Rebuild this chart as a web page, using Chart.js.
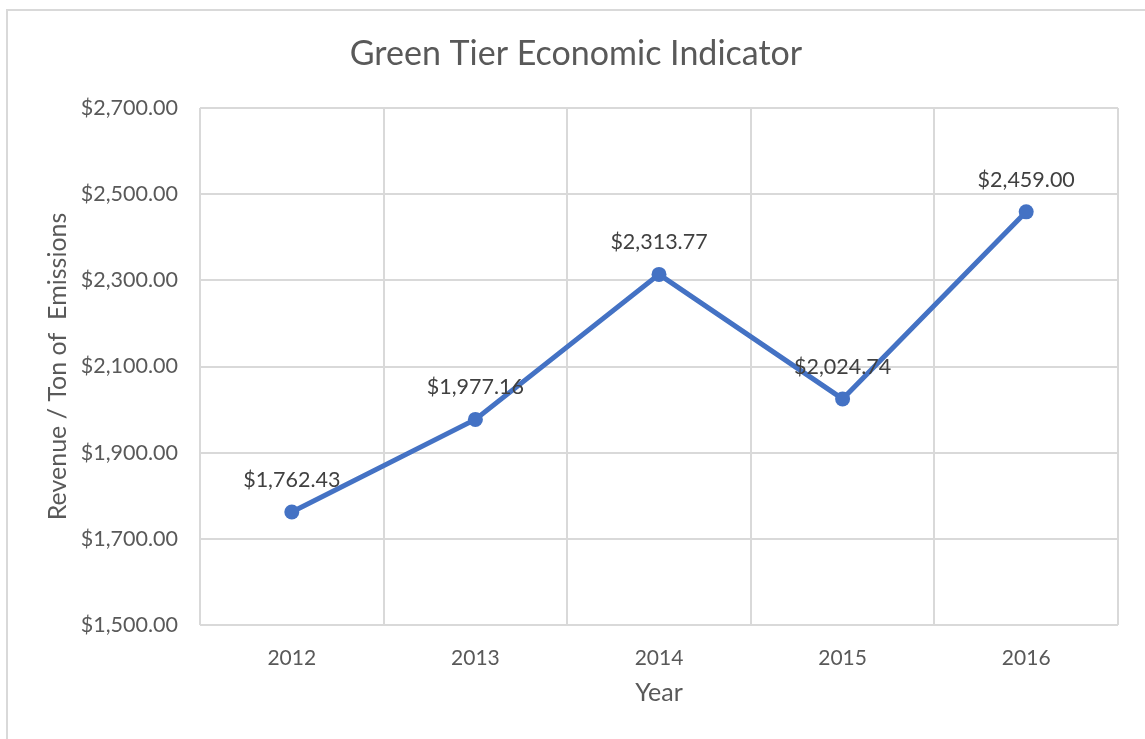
<!DOCTYPE html>
<html>
<head>
<meta charset="utf-8">
<script src="https://cdn.jsdelivr.net/npm/chart.js@4.4.1/dist/chart.umd.min.js"></script>
<style>
  html, body { margin: 0; padding: 0; background: #fff; overflow: hidden; }
  #moldura { position: absolute; left: 6px; top: 9px; width: 1300px; height: 900px; border: 2px solid #d9d9d9; }
  #caixa { position: absolute; left: 0; top: 0; width: 1145px; height: 739px; }
</style>
</head>
<body>
<div id="moldura"></div>
<div id="caixa"><canvas id="graficoIndicador"></canvas></div>
<script>
const anos = ['2012', '2013', '2014', '2015', '2016'];
const receitaPorTonelada = [1762.43, 1977.16, 2313.77, 2024.74, 2459.00];
const eixoMin = 1500;
const eixoMax = 2700;
const eixoPasso = 200;
const tituloGrafico = 'Green Tier Economic Indicator';

const corTexto = '#595959';
const fonte = 'Lato, "Open Sans", sans-serif';

function formatarDolar(valor) {
  return '$' + valor.toLocaleString('en-US', { minimumFractionDigits: 2, maximumFractionDigits: 2 });
}

// rótulos de dados acima de cada ponto + título do gráfico
const rotulosPlugin = {
  id: 'rotulos',
  afterDatasetsDraw(chart) {
    const ctx = chart.ctx;
    const meta = chart.getDatasetMeta(0);
    ctx.save();
    ctx.font = '21.5px ' + fonte;
    ctx.fillStyle = '#404040';
    ctx.textAlign = 'center';
    ctx.textBaseline = 'middle';
    meta.data.forEach((ponto, i) => {
      ctx.fillText(formatarDolar(receitaPorTonelada[i]), ponto.x, ponto.y - 32);
    });

    ctx.font = '34px ' + fonte;
    ctx.fillStyle = corTexto;
    ctx.fillText(tituloGrafico, 576, 54);
    ctx.restore();
  }
};

const ctx = document.getElementById('graficoIndicador').getContext('2d');
new Chart(ctx, {
  type: 'line',
  data: {
    labels: anos,
    datasets: [{
      data: receitaPorTonelada,
      borderColor: '#4472C4',
      backgroundColor: '#4472C4',
      borderWidth: 5,
      pointRadius: 7.5,
      pointHoverRadius: 7.5,
      pointBorderWidth: 0,
      tension: 0
    }]
  },
  options: {
    responsive: true,
    maintainAspectRatio: false,
    animation: false,
    layout: { padding: { left: 0, right: 27, top: 108, bottom: 0 } },
    plugins: {
      legend: { display: false },
      tooltip: { enabled: false },
      title: { display: false }
    },
    scales: {
      x: {
        offset: true,
        grid: { color: '#d9d9d9', lineWidth: 2, offset: true, drawTicks: false },
        border: { display: false },
        ticks: { color: corTexto, font: { family: fonte, size: 21 }, padding: 21 },
        title: {
          display: true,
          text: 'Year',
          color: corTexto,
          font: { family: fonte, size: 25 },
          padding: { top: 0, bottom: 31 }
        },
        afterFit(escala) { escala.height = 114; }
      },
      y: {
        min: eixoMin,
        max: eixoMax,
        grid: { color: '#d9d9d9', lineWidth: 2, drawTicks: false },
        border: { display: false },
        ticks: {
          stepSize: eixoPasso,
          color: corTexto,
          font: { family: fonte, size: 21.5 },
          padding: 22,
          callback: function(valor) { return formatarDolar(valor); }
        },
        title: {
          display: true,
          text: 'Revenue / Ton of  Emissions',
          color: corTexto,
          font: { family: fonte, size: 25 },
          padding: { top: 43, bottom: 0 }
        },
        afterFit(escala) { escala.width = 200; }
      }
    }
  },
  plugins: [rotulosPlugin]
});
</script>
</body>
</html>
